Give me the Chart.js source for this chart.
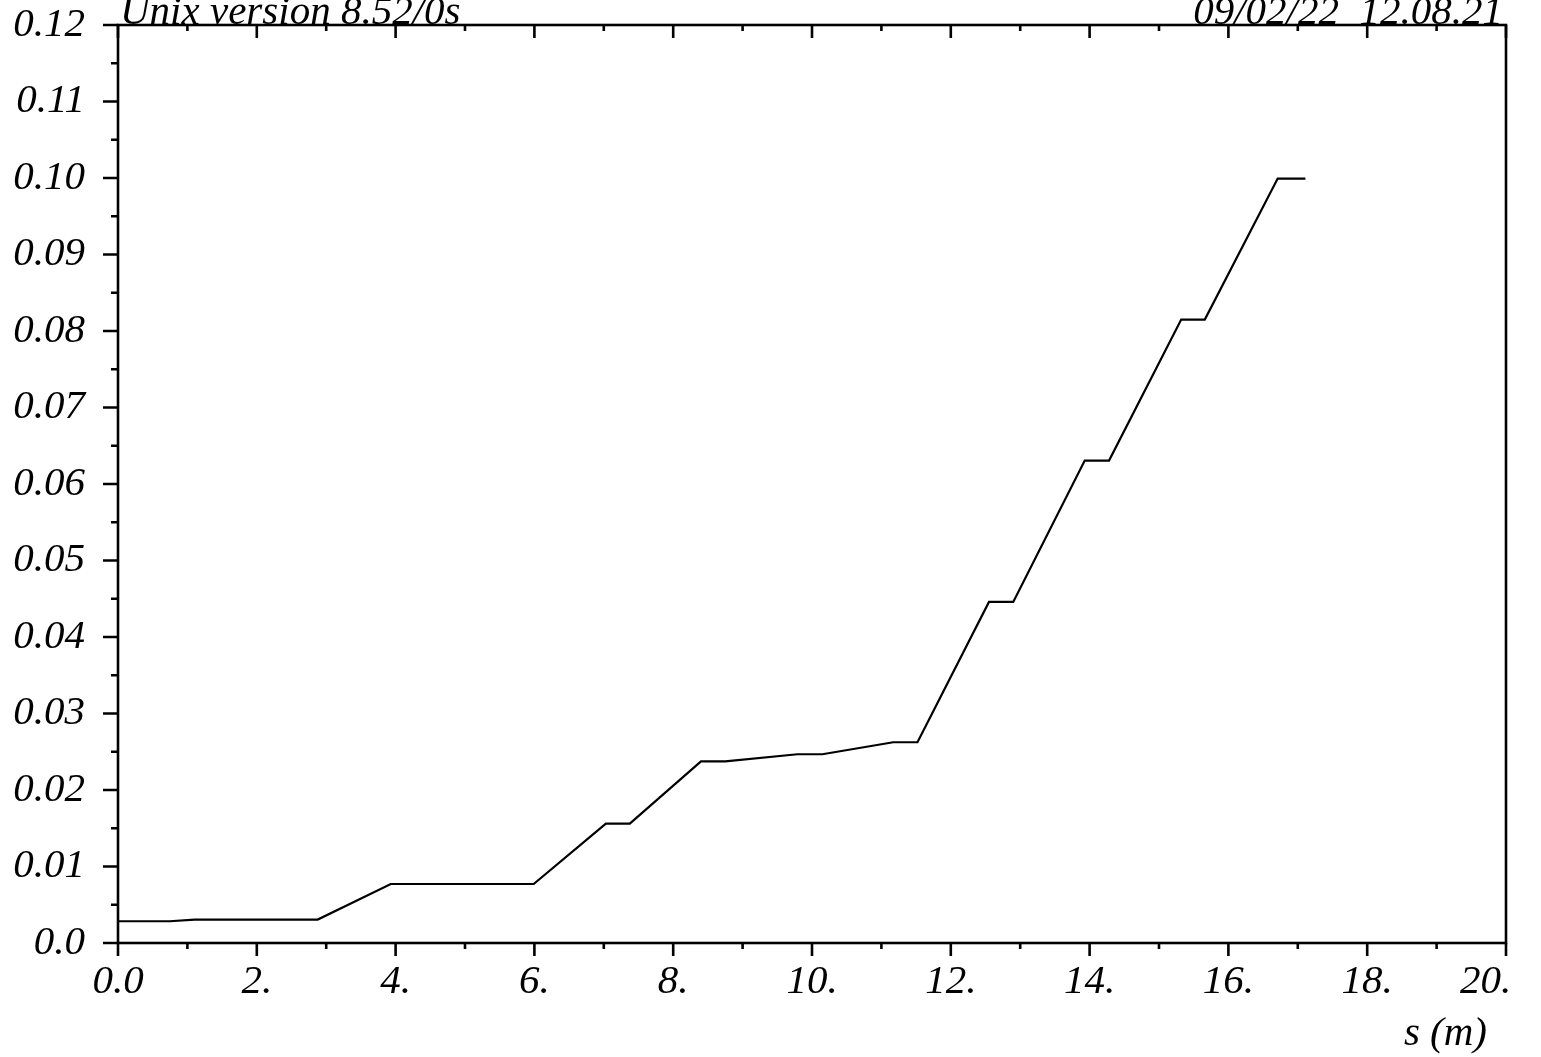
<!DOCTYPE html>
<html>
<head>
<meta charset="utf-8">
<script src="https://cdn.jsdelivr.net/npm/chart.js@4/dist/chart.umd.min.js"></script>
<style>
  html, body { margin: 0; padding: 0; background: #fff; }
  #wrap { width: 1541px; height: 1057px; position: relative; }
</style>
</head>
<body>
<div id="wrap"><canvas id="envChart"></canvas></div>
<script>
// s (m) positions and the plotted value
const sValues = [0, 0.745, 1.105, 2.878, 3.93, 5.99, 7.03, 7.375, 8.40, 8.75, 9.79, 10.15,
  11.17, 11.52, 12.55, 12.90, 13.93, 14.28, 15.32, 15.66, 16.71, 17.11];
const yValues = [0.00284, 0.00284, 0.00306, 0.00306, 0.00771, 0.00771, 0.01561, 0.01561,
  0.02375, 0.02375, 0.02467, 0.02467, 0.02624, 0.02624, 0.04458, 0.04458, 0.06306, 0.06306,
  0.08149, 0.08149, 0.09992, 0.09992];

const xMin = 0, xMax = 20, xStep = 2, xMinorStep = 1;
const yMin = 0, yMax = 0.12, yStep = 0.01, yMinorStep = 0.005;

const headerLeft = 'Unix version 8.52/0s';
const headerRight = '09/02/22  12.08.21';
const xTitle = 's (m)';

const FONT = 'italic 41px "Liberation Serif", "Times New Roman", serif';

// frame, ticks (major/minor) and header texts
const framePlugin = {
  id: 'frame',
  afterDraw(chart) {
    const { ctx, chartArea: a, scales } = chart;
    const xs = scales.x, ys = scales.y;
    ctx.save();
    ctx.strokeStyle = '#000';
    ctx.lineWidth = 2.6;
    ctx.strokeRect(a.left, a.top, a.right - a.left, a.bottom - a.top);

    ctx.beginPath();
    // left axis ticks, outward
    for (let i = 0; i <= Math.round((yMax - yMin) / yMinorStep); i++) {
      const v = yMin + i * yMinorStep;
      const y = ys.getPixelForValue(v);
      const len = i % 2 === 0 ? 15 : 7;
      ctx.moveTo(a.left, y);
      ctx.lineTo(a.left - len, y);
    }
    // bottom ticks outward, top ticks inward
    for (let i = 0; i <= Math.round((xMax - xMin) / xMinorStep); i++) {
      const v = xMin + i * xMinorStep;
      const x = xs.getPixelForValue(v);
      const len = i % 2 === 0 ? 13 : 6;
      ctx.moveTo(x, a.bottom);
      ctx.lineTo(x, a.bottom + len);
      ctx.moveTo(x, a.top);
      ctx.lineTo(x, a.top + len);
    }
    ctx.stroke();

    ctx.fillStyle = '#000';
    ctx.font = FONT;
    ctx.textBaseline = 'alphabetic';
    ctx.textAlign = 'left';
    ctx.fillText(headerLeft, 120, 24);
    ctx.textAlign = 'right';
    ctx.fillText(headerRight, 1503, 24);
    ctx.fillText(xTitle, 1487, 1045);
    ctx.restore();
  }
};

const ctx = document.getElementById('envChart');
new Chart(ctx, {
  type: 'line',
  data: {
    datasets: [{
      data: sValues.map((s, i) => ({ x: s, y: yValues[i] })),
      borderColor: '#000',
      borderWidth: 2.2,
      pointRadius: 0,
      tension: 0,
      fill: false,
    }]
  },
  options: {
    responsive: true,
    maintainAspectRatio: false,
    animation: false,
    layout: { padding: { top: 25, right: 35, left: 0, bottom: 0 } },
    plugins: {
      legend: { display: false },
      tooltip: { enabled: false },
    },
    scales: {
      x: {
        type: 'linear',
        min: xMin,
        max: xMax,
        afterFit: (scale) => {
          scale.height = 114;
          scale.paddingLeft = 0;
          scale.paddingRight = 0;
        },
        grid: { display: false, drawTicks: false },
        border: { display: false },
        ticks: {
          stepSize: xStep,
          maxRotation: 0,
          autoSkip: false,
          padding: 15,
          color: '#000',
          font: { family: '"Liberation Serif", "Times New Roman", serif', style: 'italic', size: 41 },
          callback: (v) => v === 0 ? '0.0' : (v === xMax ? v + '.\u00a0\u00a0\u00a0\u00a0' : v + '.'),
        },
      },
      y: {
        min: yMin,
        max: yMax,
        afterFit: (scale) => {
          scale.width = 118;
          scale.paddingTop = 0;
          scale.paddingBottom = 0;
        },
        grid: { display: false, drawTicks: false },
        border: { display: false },
        ticks: {
          stepSize: yStep,
          autoSkip: false,
          padding: 33,
          color: '#000',
          font: { family: '"Liberation Serif", "Times New Roman", serif', style: 'italic', size: 41 },
          callback: (v) => v === 0 ? '0.0' : v.toFixed(2),
        },
      },
    },
  },
  plugins: [framePlugin],
});
</script>
</body>
</html>
